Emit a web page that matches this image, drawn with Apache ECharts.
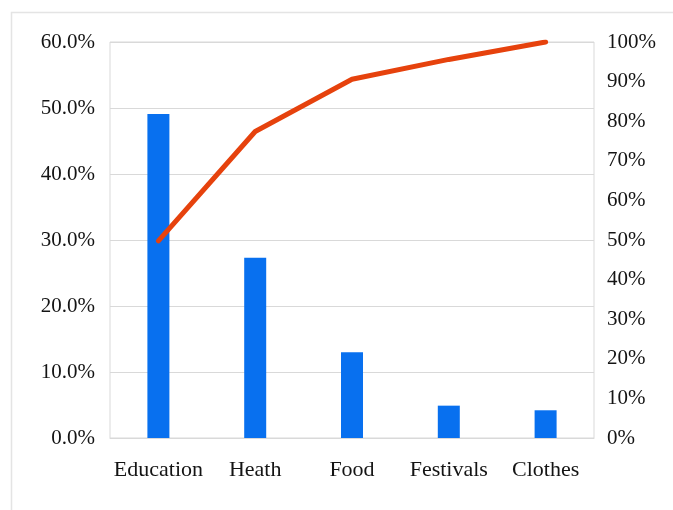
<!DOCTYPE html>
<html>
<head>
<meta charset="utf-8">
<style>
  html, body { margin: 0; padding: 0; background: #ffffff; }
  #chart { width: 673px; height: 510px; }
</style>
<script src="https://cdn.jsdelivr.net/npm/echarts@6/dist/echarts.min.js"></script>
</head>
<body>
<div id="chart"></div>
<script>
// Spending categories, share of total (%) and cumulative share (%)
const categories = ['Education', 'Heath', 'Food', 'Festivals', 'Clothes'];
const shareValues = [49.1, 27.3, 13.0, 4.9, 4.2];
const cumulativeValues = [49.8, 77.4, 90.6, 95.6, 100];

const serif = '"Liberation Serif", "Times New Roman", serif';
const labelStyle = { fontFamily: serif, fontSize: 21, color: '#141414' };

const chart = echarts.init(document.getElementById('chart'), null, { renderer: 'canvas' });

chart.setOption({
  backgroundColor: '#ffffff',
  animation: false,
  graphic: [{
    type: 'rect',
    shape: { x: 11.5, y: 12.5, width: 700, height: 520 },
    style: { fill: 'none', stroke: '#e4e4e4', lineWidth: 1.5 },
    silent: true
  }],
  grid: {
    left: 110, right: 79, top: 42, bottom: 72,
    show: true, borderColor: '#d9d9d9', borderWidth: 1
  },
  xAxis: {
    type: 'category',
    data: categories,
    boundaryGap: true,
    axisLine: { show: true, lineStyle: { color: '#d9d9d9', width: 1 } },
    axisTick: { show: false },
    axisLabel: Object.assign({}, labelStyle, { margin: 21, interval: 0, fontSize: 22 })
  },
  yAxis: [{
    type: 'value',
    min: 0, max: 60, interval: 10,
    axisLine: { show: false },
    axisTick: { show: false },
    splitLine: { show: true, lineStyle: { color: '#d9d9d9', width: 1 } },
    axisLabel: Object.assign({ margin: 15, formatter: v => v.toFixed(1) + '%' }, labelStyle)
  }, {
    type: 'value',
    min: 0, max: 100, interval: 10,
    position: 'right',
    axisLine: { show: false },
    axisTick: { show: false },
    splitLine: { show: false },
    axisLabel: Object.assign({ margin: 13, formatter: v => v + '%' }, labelStyle)
  }],
  series: [{
    name: 'Share',
    type: 'bar',
    data: shareValues,
    yAxisIndex: 0,
    barWidth: 22,
    itemStyle: { color: '#0870ef' }
  }, {
    name: 'Cumulative',
    type: 'line',
    data: cumulativeValues,
    yAxisIndex: 1,
    showSymbol: false,
    symbol: 'none',
    lineStyle: { color: '#e6420d', width: 5, cap: 'round', join: 'round' },
    z: 3
  }]
});
</script>
</body>
</html>
